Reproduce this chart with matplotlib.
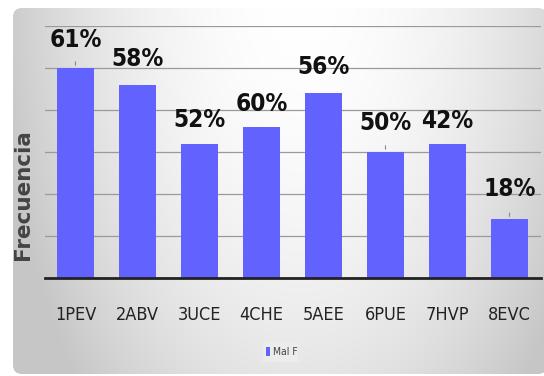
import numpy as np
import matplotlib
matplotlib.use("Agg")
from matplotlib import pyplot as plt
from matplotlib.patches import FancyBboxPatch

# datos por indicador
categorias = ["1PEV", "2ABV", "3UCE", "4CHE", "5AEE", "6PUE", "7HVP", "8EVC"]
frecuencia = [25, 23, 16, 18, 22, 15, 16, 7]
porcentajes = ["61%", "58%", "52%", "60%", "56%", "50%", "42%", "18%"]
serie = "Mal F"

# separacion de cada etiqueta sobre su barra (pixeles) y lineas guia
label_offset = [28, 26, 24, 23, 26, 29, 23, 30]
con_guia = [True, False, False, False, False, True, False, True]

W, H = 544, 376
fig = plt.figure(figsize=(W / 100, H / 100), dpi=100)
fig.patch.set_facecolor("white")

# fondo del grafico con degradado gris
bg = fig.add_axes([0, 0, 1, 1], zorder=-1)
bg.set_xlim(0, W)
bg.set_ylim(H, 0)
bg.axis("off")
xx, yy = np.meshgrid(np.linspace(0, W, 272), np.linspace(0, H, 188))
d = np.sqrt(((xx - 300) / 290.0) ** 2 + ((yy + 20) / 560.0) ** 2)
shade = np.clip(1.0 - 0.2 * d ** 2, 0.78, 1.0)
img = np.dstack([shade, shade, shade])
panel = FancyBboxPatch((13, 8), W - 10, H - 10, boxstyle="round,pad=0,rounding_size=9",
                       transform=bg.transData, facecolor="none", edgecolor="none")
bg.add_patch(panel)
im = bg.imshow(img, extent=(0, W, H, 0), aspect="auto", interpolation="bilinear")
im.set_clip_path(panel)

# caja clara detras de la leyenda
bg.add_patch(plt.Rectangle((263, 342), 35, 20, facecolor="#ececec", edgecolor="none"))

ax = fig.add_axes([44.5 / W, (H - 278) / H, 496 / W, 252 / H])
ax.patch.set_alpha(0)
x = np.arange(len(categorias))
bars = ax.bar(x, frecuencia, width=0.6, color="#6262FF", zorder=2, label=serie)

ax.set_xlim(-0.5, len(categorias) - 0.5)
ax.set_ylim(0, 30)
ax.set_yticks(np.arange(0, 31, 5))
ax.yaxis.grid(True, color="#9a9a9a", linewidth=0.9, zorder=0)
ax.set_axisbelow(True)
ax.tick_params(axis="y", left=False, labelleft=False)
ax.tick_params(axis="x", bottom=False, pad=17)
for s in ["top", "right", "left"]:
    ax.spines[s].set_visible(False)
ax.spines["bottom"].set_color("#222222")
ax.spines["bottom"].set_linewidth(2)
ax.spines["bottom"].set_zorder(3)

ax.set_xticks(x)
ax.set_xticklabels(categorias, fontsize=13, color="#222222", fontstretch="condensed")

for i, b in enumerate(bars):
    top = b.get_height()
    ax.annotate(porcentajes[i], (b.get_x() + b.get_width() / 2, top),
                xytext=(0, label_offset[i]), textcoords="offset pixels",
                ha="center", va="center", fontsize=17.5, fontweight="bold",
                fontstretch="condensed", color="#111111")
    if con_guia[i]:
        ax.annotate("", (b.get_x() + b.get_width() / 2, top),
                    xytext=(0, 9), textcoords="offset pixels",
                    arrowprops=dict(arrowstyle="-", color="#888888", lw=0.8))

ax.set_ylabel("Frecuencia", fontsize=15.5, fontweight="bold", color="#444444")
ax.yaxis.set_label_coords(-11 / 496, 0.33)

leg = fig.legend(loc="center", bbox_to_anchor=(282 / W, 1 - 352 / H), frameon=False,
                 handlelength=0.4, handleheight=1.0, handletextpad=0.3,
                 prop={"stretch": "condensed", "size": 7.5})
for t in leg.get_texts():
    t.set_color("#444444")

fig.savefig("out.png", dpi=100)
